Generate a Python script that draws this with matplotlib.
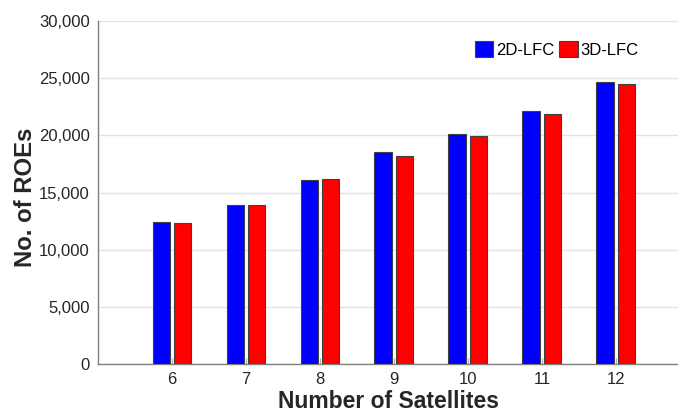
import matplotlib
matplotlib.use("Agg")
import matplotlib.pyplot as plt
import numpy as np
from matplotlib.ticker import FuncFormatter

satellites = [6, 7, 8, 9, 10, 11, 12]
roes_2d = [12400, 13880, 16070, 18520, 20150, 22100, 24690]
roes_3d = [12300, 13880, 16180, 18220, 19970, 21840, 24460]
series_names = ["2D-LFC", "3D-LFC"]
yticks = [0, 5000, 10000, 15000, 20000, 25000, 30000]

plt.rcParams['font.family'] = ['Liberation Sans', 'DejaVu Sans']

fig = plt.figure(figsize=(6.78, 4.12), dpi=100)
ax = fig.add_axes([98/678, 1-364/412, 1-98/678, (364-21)/412])

x = np.array(satellites, dtype=float)
w = 0.235
off = 0.145
ax.bar(x - off, roes_2d, width=w, color="#0000FF", edgecolor="#404040", linewidth=0.8,
       label=series_names[0], zorder=3)
ax.bar(x + off, roes_3d, width=w, color="#FF0000", edgecolor="#404040", linewidth=0.8,
       label=series_names[1], zorder=3)

ax.set_xlim(5.0, 12.84)
ax.set_ylim(0, 30000)
ax.set_xticks(satellites)
ax.set_yticks(yticks)
ax.yaxis.set_major_formatter(FuncFormatter(lambda v, p: f"{int(v):,}"))
ax.grid(axis='y', color="#e3e3e3", linewidth=1.0, zorder=0)
ax.set_axisbelow(True)

for s in ['top', 'right']:
    ax.spines[s].set_visible(False)
for s in ['left', 'bottom']:
    ax.spines[s].set_color("#808080")
    ax.spines[s].set_linewidth(1.0)

ax.tick_params(axis='x', direction='in', length=4, color="#b0b0b0", labelsize=12,
               labelcolor="#262626", pad=6)
ax.tick_params(axis='y', length=0, labelsize=12, labelcolor="#262626", pad=6)

ax.set_xlabel("Number of Satellites", fontsize=16.5, fontweight='bold', color="#262626")
ax.xaxis.set_label_coords(0.5, (364-408)/343, transform=ax.transAxes)
ax.xaxis.label.set_va('baseline')
ax.set_ylabel("No. of ROEs", fontsize=17.2, fontweight='bold', color="#262626")
ax.yaxis.set_label_coords((25-98)/580, (364-197)/343, transform=ax.transAxes)
ax.yaxis.label.set_va('center')

leg = ax.legend(loc='upper left', bbox_to_anchor=(0.633, 0.972), ncol=2, frameon=False,
                fontsize=12, handlelength=1.1, handleheight=1.15, handletextpad=0.15,
                columnspacing=0.3, borderpad=0.1)

fig.savefig("out.png", dpi=100)
